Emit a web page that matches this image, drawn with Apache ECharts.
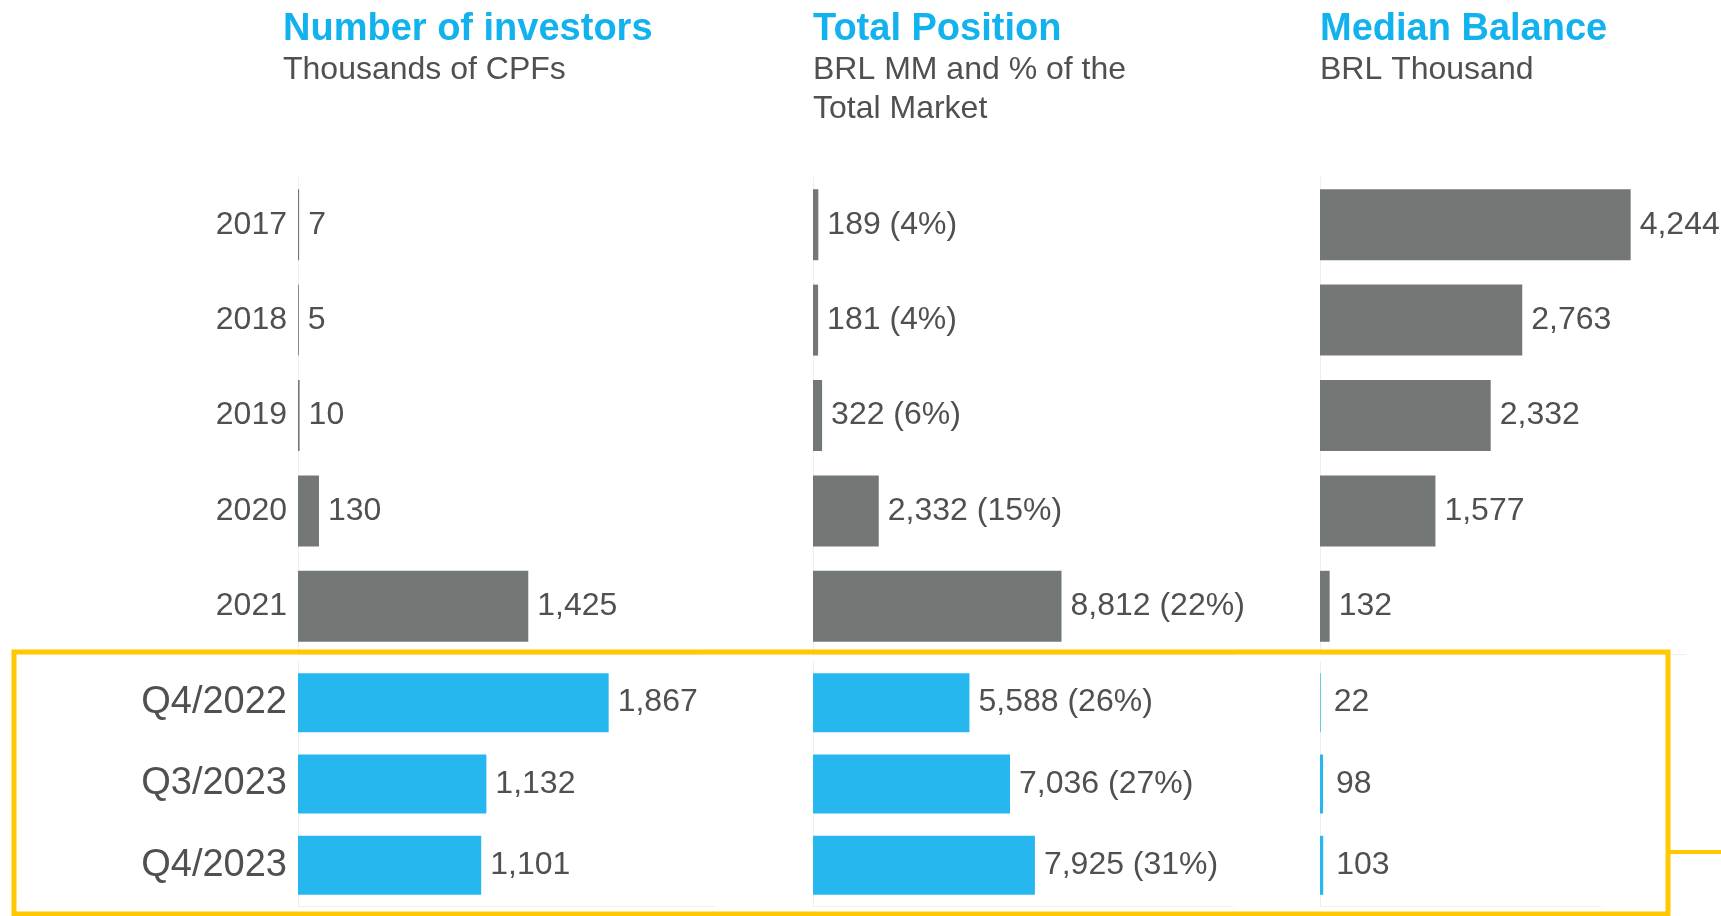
<!DOCTYPE html>
<html>
<head>
<meta charset="utf-8">
<script src="https://cdn.jsdelivr.net/npm/echarts@6/dist/echarts.min.js"></script>
<style>
  html, body { margin: 0; padding: 0; background: #fff; }
  #main { width: 1721px; height: 916px; }
</style>
</head>
<body>
<div id="main"></div>
<script>
// categories
let years = ['2017', '2018', '2019', '2020', '2021']
let quarters = ['Q4/2022', 'Q3/2023', 'Q4/2023']

// Number of investors (thousands of CPFs)
let investorsYears = [7, 5, 10, 130, 1425]
let investorsQuarters = [1867, 1132, 1101]
// Total position (BRL MM) and % of total market
let positionYears = [189, 181, 322, 2332, 8812]
let positionQuarters = [5588, 7036, 7925]
let positionPctYears = [4, 4, 6, 15, 22]
let positionPctQuarters = [26, 27, 31]
// Median balance (BRL thousand)
let medianYears = [4244, 2763, 2332, 1577, 132]
let medianQuarters = [22, 98, 103]

const FONT = '"Liberation Sans", Arial, sans-serif'
const GRAY = '#737877'
const BLUE = '#25b7ee'
const TEXT = '#505050'
const TITLE = '#12b2ee'

function fmt (v) {
  return v.toLocaleString('en-US')
}

// left, width, max for each panel (top grid / bottom grid)
let panels = [
  { left: 298, top: { width: 404, max: 2500 }, bottom: { width: 416, max: 2500 } },
  { left: 813, top: { width: 423, max: 15000 }, bottom: { width: 420, max: 15000 } },
  { left: 1320, top: { width: 366, max: 5000 }, bottom: { width: 281, max: 9000 } }
]

let grid = []
let xAxis = []
let yAxis = []
panels.forEach((p, i) => {
  grid.push({ left: p.left, top: 177, width: p.top.width, height: 477 })
  grid.push({ left: p.left, top: 662, width: p.bottom.width, height: 244 })
  ;[p.top, p.bottom].forEach((g, j) => {
    let idx = i * 2 + j
    xAxis.push({
      type: 'value',
      gridIndex: idx,
      min: 0,
      max: g.max,
      axisLine: { show: true, lineStyle: { color: '#f0f0f0' } },
      axisTick: { show: false },
      axisLabel: { show: false },
      splitLine: { show: false }
    })
    yAxis.push({
      type: 'category',
      gridIndex: idx,
      inverse: true,
      data: j === 0 ? years : quarters,
      axisLine: { show: true, lineStyle: { color: '#eeeeee' } },
      axisTick: { show: false },
      axisLabel: {
        show: i === 0,
        margin: 11,
        color: TEXT,
        fontFamily: FONT,
        fontSize: j === 0 ? 32 : 38
      }
    })
  })
})

function bar (idx, data, color, width, dist, formatter) {
  return {
    type: 'bar',
    xAxisIndex: idx,
    yAxisIndex: idx,
    data: data,
    barWidth: width,
    itemStyle: { color: color },
    label: {
      show: true,
      position: 'right',
      distance: dist,
      color: TEXT,
      fontFamily: FONT,
      fontSize: 32,
      formatter: formatter
    }
  }
}

let series = [
  bar(0, investorsYears, GRAY, 71, 9, p => fmt(p.value)),
  bar(1, investorsQuarters, BLUE, 59, 9, p => fmt(p.value)),
  bar(2, positionYears, GRAY, 71, 9, p => fmt(p.value) + ' (' + positionPctYears[p.dataIndex] + '%)'),
  bar(3, positionQuarters, BLUE, 59, 9, p => fmt(p.value) + ' (' + positionPctQuarters[p.dataIndex] + '%)'),
  bar(4, medianYears, GRAY, 71, 9, p => fmt(p.value)),
  bar(5, medianQuarters, BLUE, 59, 13, p => fmt(p.value))
]

function title (left, text, sub) {
  return {
    left: left,
    top: 8,
    text: text,
    subtext: sub,
    itemGap: 0,
    padding: 0,
    textStyle: { color: TITLE, fontFamily: FONT, fontSize: 38, fontWeight: 'bold', lineHeight: 43 },
    subtextStyle: { color: TEXT, fontFamily: FONT, fontSize: 32, lineHeight: 39 }
  }
}

let option = {
  backgroundColor: '#fff',
  animation: false,
  title: [
    title(283, 'Number of investors', 'Thousands of CPFs'),
    title(813, 'Total Position', 'BRL MM and % of the\nTotal Market'),
    title(1320, 'Median Balance', 'BRL Thousand')
  ],
  grid: grid,
  xAxis: xAxis,
  yAxis: yAxis,
  series: series,
  graphic: [
    {
      type: 'rect',
      shape: { x: 14, y: 652, width: 1654, height: 262 },
      style: { fill: 'none', stroke: '#ffc800', lineWidth: 5 },
      z: 10
    },
    {
      type: 'line',
      shape: { x1: 1668, y1: 852, x2: 1721, y2: 852 },
      style: { stroke: '#ffc800', lineWidth: 4 },
      z: 10
    }
  ]
}

let chart = echarts.init(document.getElementById('main'))
chart.setOption(option)
</script>
</body>
</html>
